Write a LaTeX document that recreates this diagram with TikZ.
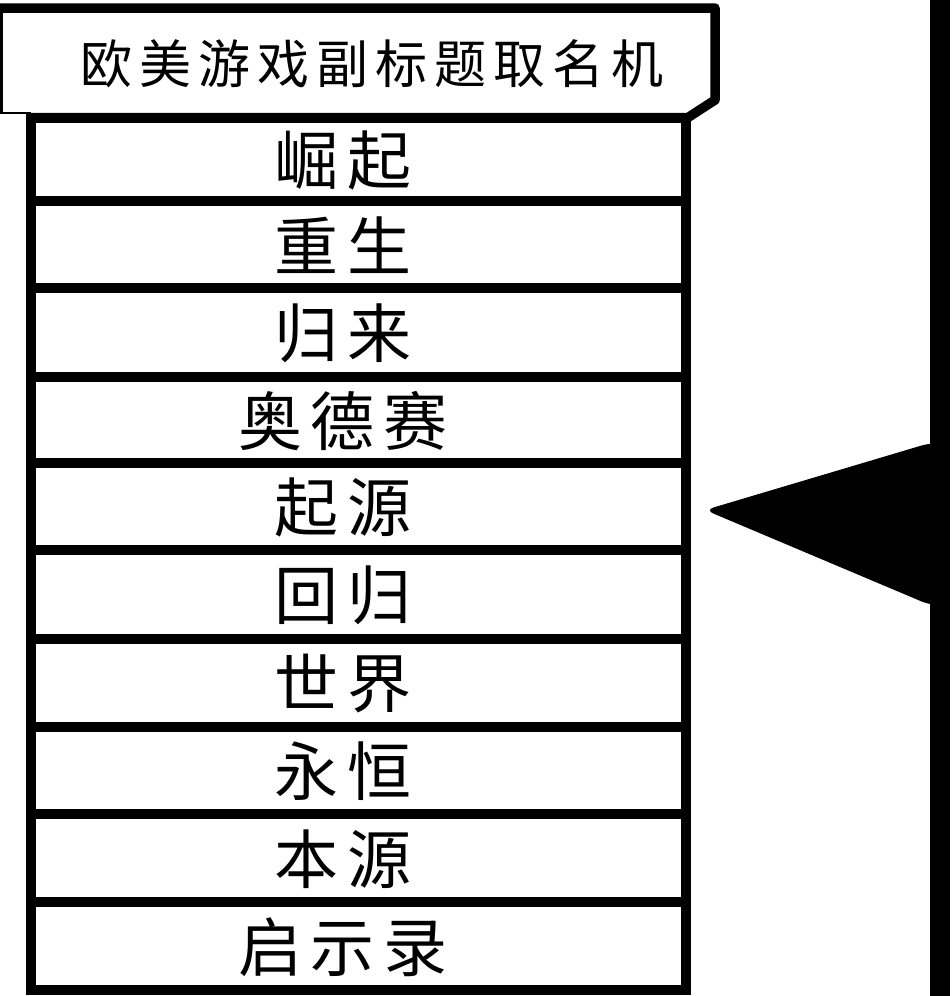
\documentclass[tikz,border=0pt]{standalone}
\usepackage{fontspec}
\newfontfamily\cjk{Noto Sans CJK SC}
\begin{document}
\begin{tikzpicture}[x=1pt,y=-1pt,
  rowbox/.style={draw=black,line width=10pt,fill=white,inner sep=0pt,minimum width=655pt},
  rowtext/.style={inner sep=0pt,font=\cjk\fontsize{64}{64}\selectfont},
  thick line/.style={line width=9.5pt,line join=round},
  headtext/.style={inner sep=0pt,font=\cjk\fontsize{52}{52}\selectfont}]
\useasboundingbox (0,0) rectangle (951,996);
\fill[white] (0,0) rectangle (951,996);
% header
\draw[line width=2.5pt] (1.5,8) -- (1.5,113) -- (31,113);
\draw[thick line] (0,8) -- (715,8) -- (715,100) -- (688,117.5) -- (31,117.5);
\node[headtext] (head) at (372,64) {欧\kern7pt 美\kern7pt 游\kern7pt 戏\kern7pt 副\kern7pt 标\kern7pt 题\kern7pt 取\kern7pt 名\kern7pt 机};
% rows
\foreach \top/\bot/\txt/\nm in {
  117.5/201/崛\kern9pt 起/r1,
  201/288/重\kern9pt 生/r2,
  288/377/归\kern9pt 来/r3,
  377/463/奥\kern9pt 德\kern9pt 赛/r4,
  463/550/起\kern9pt 源/r5,
  550/638.5/回\kern9pt 归/r6,
  638.5/727/世\kern9pt 界/r7,
  727/813.5/永\kern9pt 恒/r8,
  813.5/902/本\kern9pt 源/r9,
  902/990/启\kern9pt 示\kern9pt 录/r10}{
  \node[rowbox,minimum height={\bot-\top}] (\nm) at (358.5,{(\top+\bot)/2}) {};
  \node[rowtext] (t\nm) at (343,{(\top+\bot)/2+1}) {\txt};
}
% right bar and pointer
\fill (930,0) rectangle (950,996);
\fill[rounded corners=9pt] (940,443) -- (930,443) -- (705,510) -- (930,605) -- (940,605) -- cycle;
\end{tikzpicture}
\end{document}
